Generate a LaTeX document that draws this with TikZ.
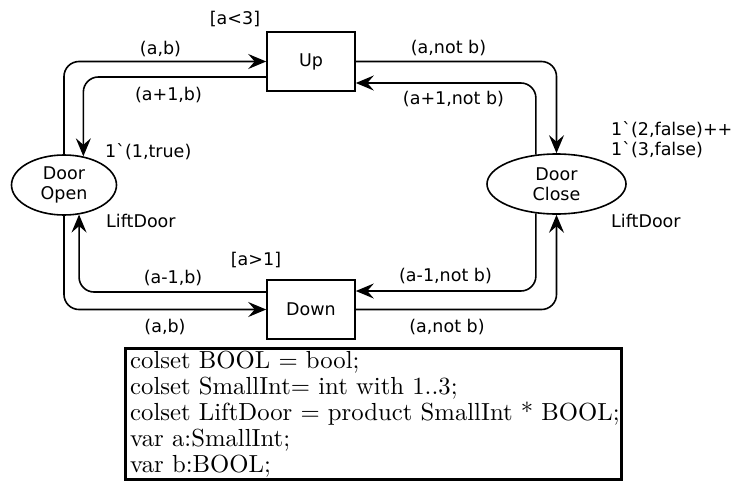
\documentclass[tikz,border=0pt]{standalone}
\usepackage{fontspec}
\usepackage{graphicx}
\usetikzlibrary{shapes.geometric, arrows.meta}
\newfontfamily\lab{DejaVu Sans}[Ligatures=TeXOff]
\tikzset{
  lbl/.style={font=\lab\fontsize{17.5}{20}\selectfont, inner sep=0pt, text=black},
  trans/.style={draw, line width=1.6pt, rectangle, minimum width=88pt, minimum height=59pt, inner sep=0pt, font=\lab\fontsize{17.5}{20}\selectfont},
  place/.style={draw, line width=1.6pt, ellipse, minimum height=60pt, inner sep=0pt, align=center, font=\lab\fontsize{17.5}{20}\selectfont},
  arc/.style={line width=1.6pt, rounded corners=15pt, -{Stealth[length=18pt,width=15pt,inset=6.5pt]}},
}
\begin{document}
\begin{tikzpicture}[x=1pt, y=-1pt]
\useasboundingbox (0,0) rectangle (738,482);
\fill[white] (0,0) rectangle (738,482);

% transitions and places
\node[trans] (up) at (311,61.5) {Up};
\node[trans] (down) at (311,309.5) {Down};
\node[place, minimum width=105pt] (open) at (64,185) {Door\\Open};
\node[place, minimum width=139pt] (close) at (556.5,184) {Door\\Close};

% arcs
\draw[arc] (open.north) |- (up.west);
\draw[arc] ([yshift=-15.5pt]up.west) -| (open.56);
\draw[arc] (up.east) -| (close.north);
\draw[arc] (close.125) |- ([yshift=-21.5pt]up.east);
\draw[arc] (open.south) |- (down.west);
\draw[arc] ([yshift=17.5pt]down.west) -| (open.-63);
\draw[arc] (down.east) -| (close.south);
\draw[arc] (close.-125) |- ([yshift=18.5pt]down.east);

% inscriptions
\node[lbl] (g1) at (235,19) {[a<3]};
\node[lbl] (l1) at (160.5,49) {(a,b)};
\node[lbl] (l2) at (168.5,95) {(a+1,b)};
\node[lbl, anchor=west] (m1) at (105,152) {1\char96(1,true)};
\node[lbl, anchor=west] (t1) at (106,221) {LiftDoor};
\node[lbl] (l3) at (448.5,48) {(a,not b)};
\node[lbl] (l4) at (453.5,99) {(a+1,not b)};
\node[lbl, anchor=west, align=left] (m2) at (611,140) {1\char96(2,false)++\\1\char96(3,false)};
\node[lbl, anchor=west] (t2) at (611,221) {LiftDoor};
\node[lbl] (g2) at (256,260) {[a>1]};
\node[lbl] (l5) at (173,278) {(a-1,b)};
\node[lbl] (l6) at (165,327) {(a,b)};
\node[lbl] (l7) at (445.5,276) {(a-1,not b)};
\node[lbl] (l8) at (447,327) {(a,not b)};

% declarations
\node[draw, line width=3pt, minimum width=496pt, minimum height=131pt, inner sep=0pt] (declbox) at (373.5,414) {};
\node[anchor=north west, inner sep=0pt] (decl) at (130,350.5) {\scalebox{2.47}{\vbox{\fontsize{10}{10.53}\selectfont
  \hbox{colset BOOL = bool;}
  \hbox{colset SmallInt= int with 1..3;}
  \hbox{colset LiftDoor = product SmallInt * BOOL;}
  \hbox{var a:SmallInt;}
  \hbox{var b:BOOL;}}}};
\end{tikzpicture}
\end{document}
